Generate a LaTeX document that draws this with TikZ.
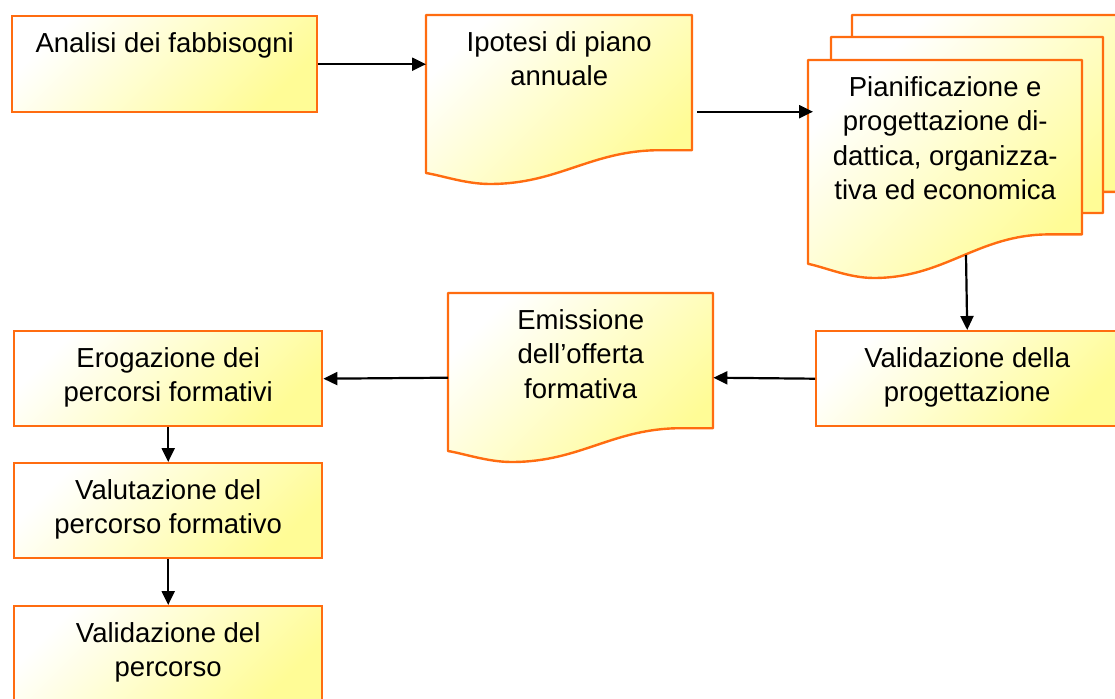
\documentclass[tikz,border=0pt]{standalone}
\usepackage{fontspec}
\setmainfont{Liberation Sans}
\usetikzlibrary{arrows.meta}
\definecolor{edge}{RGB}{255,108,16}
\definecolor{ylw}{RGB}{255,252,150}
% text box, top aligned: width, height, text
\newcommand{\boxtext}[3]{\parbox[c][#2pt][t]{#1pt}{\centering\rule{0pt}{36pt}#3}}
% document sheet with wavy bottom: x, y, width, height
\newcommand{\sheet}[4]{\draw[sheetline] (#1,#2) -- ({#1+#3},#2) -- ({#1+#3},{#2+0.8*#4}) -- ({#1+0.88*#3},{#2+0.8*#4})
  .. controls ({#1+0.62*#3},{#2+0.8*#4}) and ({#1+0.5*#3},{#2+#4}) .. ({#1+0.24*#3},{#2+#4})
  .. controls ({#1+0.15*#3},{#2+#4}) and ({#1+0.06*#3},{#2+0.95*#4}) .. (#1,{#2+0.935*#4}) -- cycle;}
\begin{document}
\begin{tikzpicture}[x=1pt,y=-1pt,font=\fontsize{27.5}{34.5}\selectfont,box/.style={draw=edge,line width=2.4pt,top color=white,bottom color=ylw,shading angle=45,inner sep=0pt,anchor=north west},sheettxt/.style={inner sep=0pt,anchor=north west},sheetline/.style={draw=edge,line width=2.4pt,top color=white,bottom color=ylw,shading angle=45,line join=round},arr/.style={line width=2.2pt,-{Triangle[length=14pt,width=13pt]}}]
\def\bw{308};
\def\bh{95};
\useasboundingbox (0,0) rectangle (1115,698);

\sheet{426}{15}{266}{169}
\sheet{852}{15}{272}{221}
\sheet{831}{37}{272}{220}
\sheet{808}{60}{274}{218}
\sheet{448}{293}{265}{169}

\node[box] (analisi) at (11,15) {\boxtext{305}{96}{Analisi dei fabbisogni}};
\node[sheettxt] (ipotesi) at (426,15) {\boxtext{266}{169}{Ipotesi di piano\\annuale}};
\node[sheettxt] (pianif) at (808,60) {\boxtext{274}{218}{Pianificazione e\\progettazione di-\\dattica, organizza-\\tiva ed economica}};
\node[box] (valprog) at (815,330) {\boxtext{302}{\bh}{Validazione della\\progettazione}};
\node[sheettxt] (emiss) at (448,293) {\boxtext{265}{169}{Emissione\\dell’offerta\\formativa}};
\node[box] (erog) at (13,330) {\boxtext{\bw}{\bh}{Erogazione dei\\percorsi formativi}};
\node[box] (valut) at (13,462) {\boxtext{\bw}{\bh}{Valutazione del\\percorso formativo}};
\node[box] (valperc) at (13,605) {\boxtext{\bw}{\bh}{Validazione del\\percorso}};
\coordinate (pianifbot) at (966,255);

\draw[arr] (analisi.east) -- (analisi.east -| ipotesi.west);
\draw[arr] ([shift={(5,12)}]ipotesi.east) -- ([shift={(5,12)}]ipotesi.east -| pianif.west);
\draw[arr] (pianifbot) -- (valprog.north);
\draw[arr] (valprog.west) -- (emiss.east);
\draw[arr] (emiss.west) -- (erog.east);
\draw[arr] (erog.south) -- (valut.north);
\draw[arr] (valut.south) -- (valperc.north);
\end{tikzpicture}
\end{document}
